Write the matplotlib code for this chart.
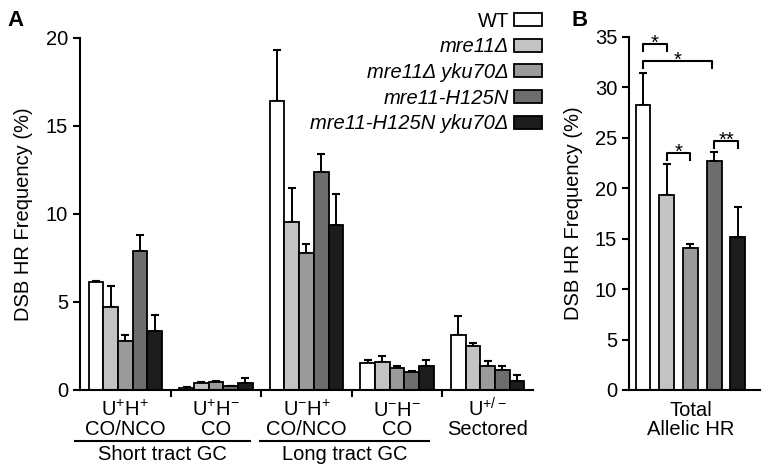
import matplotlib

matplotlib.use("Agg")
import matplotlib.pyplot as plt
import matplotlib.transforms as mtransforms
import numpy as np

plt.rcParams["font.family"] = ["Liberation Sans", "DejaVu Sans"]
plt.rcParams["mathtext.fontset"] = "custom"
plt.rcParams["mathtext.rm"] = "Liberation Sans"
plt.rcParams["mathtext.it"] = "Liberation Sans:italic"

# ---------------------------------------------------------------------------
# Data
# ---------------------------------------------------------------------------
strains = ["WT", "mre11Δ", "mre11Δ yku70Δ", "mre11-H125N", "mre11-H125N yku70Δ"]
colors = ["#ffffff", "#c3c3c3", "#9a9a9a", "#6d6d6d", "#1c1c1c"]

cat_line1 = ["U$^{+}$H$^{+}$", "U$^{+}$H$^{-}$", "U$^{-}$H$^{+}$", "U$^{-}$H$^{-}$", "U$^{+/-}$"]
cat_line2 = ["CO/NCO", "CO", "CO/NCO", "CO", "Sectored"]

# rows = categories, cols = strains
freq_a = np.array([
    [6.15, 4.70, 2.80, 7.90, 3.35],
    [0.10, 0.40, 0.45, 0.20, 0.40],
    [16.40, 9.55, 7.80, 12.40, 9.35],
    [1.55, 1.60, 1.25, 1.05, 1.38],
    [3.12, 2.52, 1.38, 1.14, 0.52],
])
err_a = np.array([
    [0.05, 1.20, 0.35, 0.90, 0.90],
    [0.05, 0.05, 0.05, 0.02, 0.30],
    [2.90, 1.95, 0.50, 1.00, 1.80],
    [0.18, 0.35, 0.10, 0.05, 0.30],
    [1.07, 0.17, 0.25, 0.22, 0.35],
])

groups = [("Short tract GC", -0.555, 1.376), ("Long tract GC", 1.487, 3.352)]

freq_b = [28.2, 19.3, 14.05, 22.7, 15.2]
err_b = [3.2, 3.1, 0.42, 0.9, 2.9]
# (bar i, bar j, bracket height, label)
brackets = [(0, 1, 34.3, "*"), (0, 2.9, 32.6, "*"), (1, 2, 23.5, "*"), (3, 4, 24.7, "**")]

# ---------------------------------------------------------------------------
# Figure
# ---------------------------------------------------------------------------
fig = plt.figure(figsize=(7.7, 4.73), dpi=100)
ax_a = fig.add_axes([0.1039, 0.1755, 0.5883, 0.7442])
ax_b = fig.add_axes([0.8169, 0.1755, 0.1701, 0.7469])

fs = 14.5
lw = 1.5

for ax in (ax_a, ax_b):
    for side in ("top", "right"):
        ax.spines[side].set_visible(False)
    for side in ("left", "bottom"):
        ax.spines[side].set_linewidth(lw)
    ax.tick_params(axis="both", direction="out", width=lw, length=5, labelsize=fs)
    ax.set_ylabel("DSB HR Frequency (%)", fontsize=fs)

# Panel A ------------------------------------------------------------------
n_cat = len(cat_line2)
width = 0.162
x = np.arange(n_cat)
for i, (name, col) in enumerate(zip(strains, colors)):
    pos = x + (i - 2) * width
    ax_a.bar(pos, freq_a[:, i], width, color=col, edgecolor="black", linewidth=1.3,
             label=name, zorder=2)
    ax_a.errorbar(pos, freq_a[:, i], yerr=[np.zeros(n_cat), err_a[:, i]], fmt="none",
                  ecolor="black", elinewidth=1.4, capsize=2.9, capthick=1.5, zorder=1)

ax_a.set_xlim(-0.5, n_cat - 0.5)
ax_a.set_ylim(0, 20)
ax_a.set_yticks([0, 5, 10, 15, 20])
ax_a.set_xticks(np.arange(n_cat - 1) + 0.5)
ax_a.set_xticklabels([])
ax_a.yaxis.set_label_coords(-0.104, 0.5)

trans_a = mtransforms.blended_transform_factory(ax_a.transData, ax_a.transAxes)
for xi, l1, l2 in zip(x, cat_line1, cat_line2):
    ax_a.text(xi, -0.074, l1, transform=trans_a, ha="center", va="baseline", fontsize=fs)
    ax_a.text(xi, -0.128, l2, transform=trans_a, ha="center", va="baseline", fontsize=fs)
for label, x0, x1 in groups:
    ax_a.plot([x0, x1], [-0.144, -0.144], color="black", lw=lw, transform=trans_a,
              clip_on=False)
    ax_a.text((x0 + x1) / 2, -0.199, label, transform=trans_a, ha="center",
              va="baseline", fontsize=fs)

leg = ax_a.legend(loc="upper right", bbox_to_anchor=(1.02, 1.075), frameon=False,
                  markerfirst=False, fontsize=fs, handlelength=1.4, handleheight=0.62,
                  handletextpad=0.25, labelspacing=0.33, borderpad=0, borderaxespad=0)
for t in leg.get_texts()[1:]:
    t.set_style("italic")

fig.text(0.010, 0.945, "A", fontsize=16, fontweight="bold")
fig.text(0.742, 0.945, "B", fontsize=16, fontweight="bold")

# Panel B ------------------------------------------------------------------
xb = np.arange(len(freq_b))
ax_b.bar(xb, freq_b, 0.63, color=colors, edgecolor="black", linewidth=1.3, zorder=2)
ax_b.errorbar(xb, freq_b, yerr=[np.zeros(len(freq_b)), err_b], fmt="none",
              ecolor="black", elinewidth=1.4, capsize=2.9, capthick=1.5, zorder=1)
ax_b.set_xlim(-0.59, 4.93)
ax_b.set_ylim(0, 35)
ax_b.set_yticks(np.arange(0, 36, 5))
ax_b.set_xticks([])
ax_b.yaxis.set_label_coords(-0.351, 0.5)

trans_b = mtransforms.blended_transform_factory(ax_b.transData, ax_b.transAxes)
ax_b.text(2, -0.0736, "Total", transform=trans_b, ha="center", va="baseline", fontsize=fs)
ax_b.text(2, -0.1274, "Allelic HR", transform=trans_b, ha="center", va="baseline",
          fontsize=fs)

for i, j, y, lab in brackets:
    ax_b.plot([i, i, j, j], [y - 0.7, y, y, y - 0.7], color="black", lw=lw, clip_on=False)
    ax_b.text((i + j) / 2, y - 0.5, lab, ha="center", va="baseline", fontsize=fs)

fig.savefig("out.png", dpi=100)
